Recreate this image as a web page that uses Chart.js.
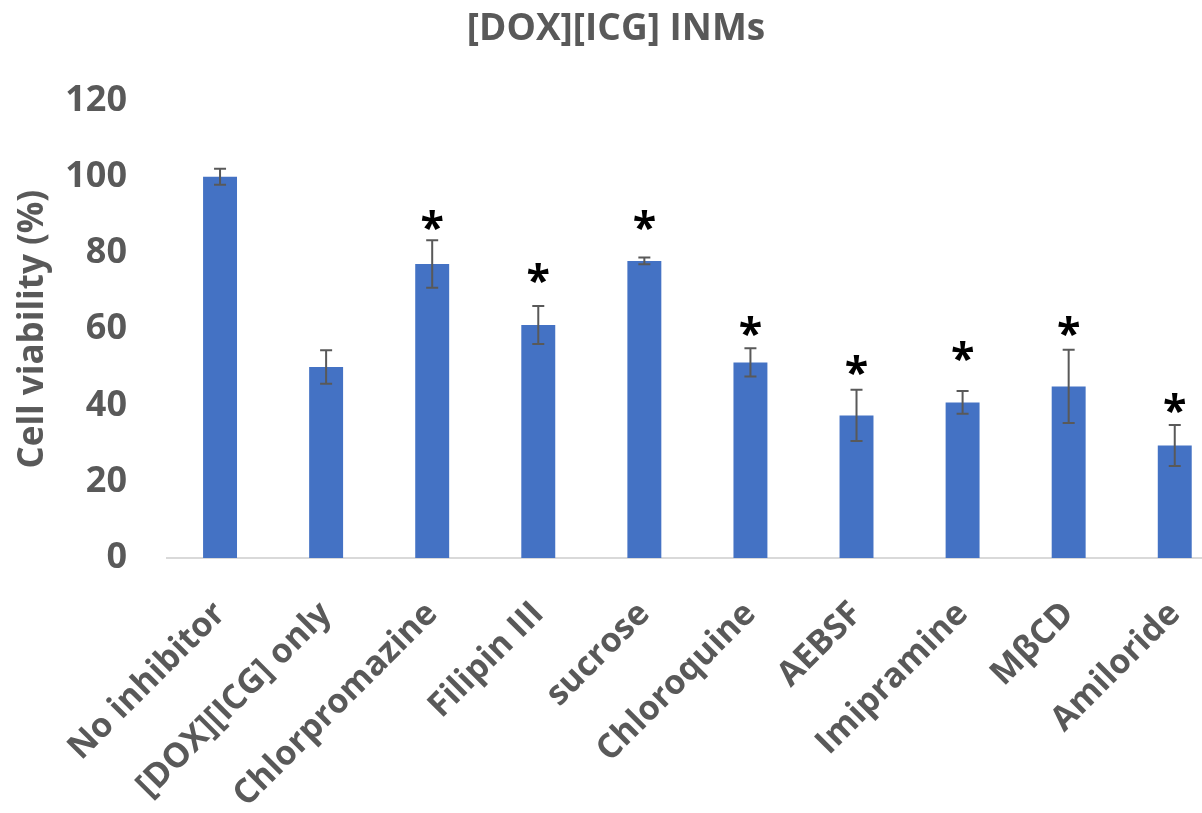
<!DOCTYPE html>
<html>
<head>
<meta charset="utf-8">
<script src="https://cdn.jsdelivr.net/npm/chart.js@4.4.1/dist/chart.umd.min.js"></script>
<style>
    html, body { margin: 0; padding: 0; background: #fff; overflow: hidden; }
    #wrap { position: relative; width: 1240px; height: 813px; }
</style>
</head>
<body>
<div id="wrap"><canvas id="viabilityChart"></canvas></div>
<script>
// [DOX][ICG] INMs - cell viability with endocytosis inhibitors

const categories = ['No inhibitor', '[DOX][ICG] only', 'Chlorpromazine', 'Filipin III', 'sucrose',
    'Chloroquine', 'AEBSF', 'Imipramine', 'MβCD', 'Amiloride'];
const viability = [100, 50.1, 77.1, 61.1, 77.9, 51.3, 37.4, 40.8, 45.0, 29.5];
const errors = [2.1, 4.4, 6.2, 5.0, 0.9, 3.7, 6.7, 3.0, 9.6, 5.4];
// height (in % units) where the significance asterisk sits
const starLevel = [null, null, 88.2, 74.2, 88.1, 60.3, 50.1, 53.7, 60.3, 40.1];
const yMin = 0, yMax = 120, yStep = 20;

const textGrey = '#595959';
const barBlue = '#4472c4';

const errorBarPlugin = {
    id: 'errorBars',
    afterDatasetsDraw(chart) {
        const ctx = chart.ctx;
        const y = chart.scales.y;
        const meta = chart.getDatasetMeta(0);
        ctx.save();
        ctx.strokeStyle = textGrey;
        ctx.lineWidth = 2;
        meta.data.forEach((bar, i) => {
            const top = y.getPixelForValue(viability[i] + errors[i]);
            const bot = y.getPixelForValue(viability[i] - errors[i]);
            ctx.beginPath();
            ctx.moveTo(bar.x, top);
            ctx.lineTo(bar.x, bot);
            ctx.moveTo(bar.x - 6, top);
            ctx.lineTo(bar.x + 6, top);
            ctx.moveTo(bar.x - 6, bot);
            ctx.lineTo(bar.x + 6, bot);
            ctx.stroke();
        });
        ctx.fillStyle = '#000';
        ctx.font = 'bold 43px "Open Sans"';
        ctx.textAlign = 'center';
        ctx.textBaseline = 'alphabetic';
        meta.data.forEach((bar, i) => {
            if (starLevel[i] == null) return;
            ctx.fillText('*', bar.x, y.getPixelForValue(starLevel[i]) + 21);
        });
        ctx.restore();
    }
};

const ctx = document.getElementById('viabilityChart').getContext('2d');

new Chart(ctx, {
    type: 'bar',
    data: {
        labels: categories,
        datasets: [{
            label: 'Cell viability',
            data: viability,
            backgroundColor: barBlue,
            borderWidth: 0,
            barPercentage: 1,
            categoryPercentage: 0.32
        }]
    },
    options: {
        responsive: true,
        maintainAspectRatio: false,
        animation: false,
        layout: {
            padding: { top: 0, left: 0, right: 8, bottom: 0 }
        },
        plugins: {
            legend: { display: false },
            tooltip: { enabled: false },
            title: {
                display: true,
                text: '[DOX][ICG] INMs',
                color: textGrey,
                font: { family: 'Open Sans', size: 37, weight: 'bold' },
                padding: { top: 7, bottom: 49 }
            }
        },
        scales: {
            x: {
                grid: { display: false, drawTicks: false },
                border: { display: true, color: '#d9d9d9', width: 2 },
                ticks: {
                    autoSkip: false,
                    minRotation: 45,
                    maxRotation: 45,
                    padding: 36,
                    color: textGrey,
                    font: { family: 'Open Sans', size: 34, weight: 'bold' }
                },
                afterFit(scale) { scale.height = 255; }
            },
            y: {
                min: yMin,
                max: yMax,
                grid: { display: false, drawTicks: false },
                border: { display: false },
                ticks: {
                    stepSize: yStep,
                    padding: 40,
                    color: textGrey,
                    font: { family: 'Open Sans', size: 36, weight: 'bold' }
                },
                title: {
                    display: true,
                    text: 'Cell viability (%)',
                    color: textGrey,
                    font: { family: 'Open Sans', size: 35, weight: 'bold' },
                    padding: { top: 12, bottom: 0 }
                },
                afterFit(scale) { scale.width = 167; }
            }
        }
    },
    plugins: [errorBarPlugin]
});
</script>
</body>
</html>
